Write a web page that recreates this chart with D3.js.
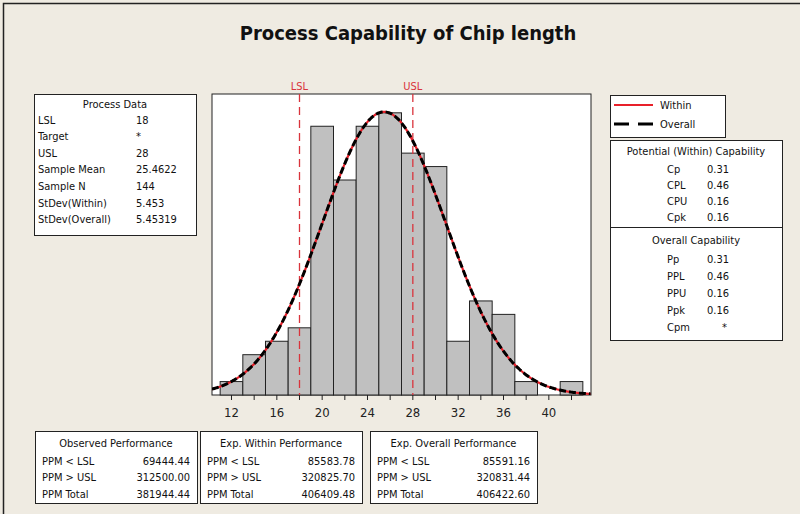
<!DOCTYPE html>
<html>
<head>
<meta charset="utf-8">
<script src="https://cdn.jsdelivr.net/npm/d3@7"></script>
<style>
  html, body { margin: 0; padding: 0; background: #efebe2; }
  svg { display: block; }
  .t { font-family: "DejaVu Sans Condensed", "DejaVu Sans", sans-serif; font-size: 11px; fill: #111; }
</style>
</head>
<body>
<svg id="chart" width="800" height="514"></svg>
<script>
// ---- data ----
const binCenters = [12, 14, 16, 18, 20, 22, 24, 26, 28, 30, 32, 34, 36, 38, 40, 42];
const binCounts  = [1, 3, 4, 5, 20, 16, 20, 21, 18, 17, 4, 7, 6, 1, 0, 1];
const binWidth = 2;
const xTickLabels = [12, 16, 20, 24, 28, 32, 36, 40];
const xMinorTicks = [12, 14, 16, 18, 20, 22, 24, 26, 28, 30, 32, 34, 36, 38, 40, 42];

const LSL = 18, USL = 28;
const sampleMean = 25.4622, sampleN = 144;
const sdWithin = 5.453, sdOverall = 5.45319;

const processLabels = ["LSL", "Target", "USL", "Sample Mean", "Sample N", "StDev(Within)", "StDev(Overall)"];
const processValues = ["18", "*", "28", "25.4622", "144", "5.453", "5.45319"];

const withinLabels = ["Cp", "CPL", "CPU", "Cpk"];
const withinValues = ["0.31", "0.46", "0.16", "0.16"];
const overallLabels = ["Pp", "PPL", "PPU", "Ppk", "Cpm"];
const overallValues = ["0.31", "0.46", "0.16", "0.16", "*"];

const perfLabels = ["PPM < LSL", "PPM > USL", "PPM Total"];
const observedPPM = ["69444.44", "312500.00", "381944.44"];
const expWithinPPM = ["85583.78", "320825.70", "406409.48"];
const expOverallPPM = ["85591.16", "320831.44", "406422.60"];

// ---- layout ----
const svg = d3.select("#chart");
const plot = { left: 212, right: 591, top: 94, bottom: 395 };

const x = d3.scaleLinear().domain([10.28, 43.72]).range([plot.left, plot.right]);
const y = d3.scaleLinear().domain([0, 22.4]).range([plot.bottom, plot.top]);

// outer frame
svg.append("rect").attr("x", 3.5).attr("y", 3.5).attr("width", 800).attr("height", 520)
  .attr("fill", "#efebe2").attr("stroke", "#222").attr("stroke-width", 1.5);

// title
svg.append("text").attr("x", 408).attr("y", 40).attr("text-anchor", "middle")
  .style("font-family", "'DejaVu Sans Condensed', 'DejaVu Sans', sans-serif")
  .style("font-weight", "bold").style("font-size", "20px").attr("fill", "#111")
  .text("Process Capability of Chip length");

// plot area
svg.append("rect").attr("x", plot.left).attr("y", plot.top)
  .attr("width", plot.right - plot.left).attr("height", plot.bottom - plot.top)
  .attr("fill", "#fff").attr("stroke", "#222").attr("stroke-width", 1);

svg.append("clipPath").attr("id", "pclip").append("rect")
  .attr("x", plot.left).attr("y", plot.top - 2)
  .attr("width", plot.right - plot.left).attr("height", plot.bottom - plot.top + 2);

// histogram bars
const bins = binCenters.map((c, i) => ({ c, n: binCounts[i] })).filter(d => d.n > 0);
svg.append("g").selectAll("rect").data(bins).join("rect")
  .attr("x", d => x(d.c - binWidth / 2))
  .attr("width", d => x(d.c + binWidth / 2) - x(d.c - binWidth / 2))
  .attr("y", d => y(d.n))
  .attr("height", d => y(0) - y(d.n))
  .attr("fill", "#c0c0c0").attr("stroke", "#222").attr("stroke-width", 1);

// spec limit lines
[["LSL", LSL], ["USL", USL]].forEach(([name, v]) => {
  svg.append("line").attr("x1", x(v)).attr("x2", x(v)).attr("y1", plot.top).attr("y2", plot.bottom)
    .attr("stroke", "#d9343c").attr("stroke-width", 1.3).attr("stroke-dasharray", "8,5");
  svg.append("text").attr("class", "t").attr("x", x(v)).attr("y", 90).attr("text-anchor", "middle")
    .style("fill", "#d9343c").text(name);
});

// fitted normal curves (scaled to counts per bin)
function normalCurve(sd) {
  const xs = d3.range(x.domain()[0], x.domain()[1] + 0.01, 0.1);
  return xs.map(v => [v, sampleN * binWidth * Math.exp(-0.5 * ((v - sampleMean) / sd) ** 2) / (sd * Math.sqrt(2 * Math.PI))]);
}
const line = d3.line().x(d => x(d[0])).y(d => y(d[1])).curve(d3.curveBasis);
const curves = svg.append("g").attr("clip-path", "url(#pclip)");
curves.append("path").attr("d", line(normalCurve(sdWithin)))
  .attr("fill", "none").attr("stroke", "#e8202a").attr("stroke-width", 2.2);
curves.append("path").attr("d", line(normalCurve(sdOverall)))
  .attr("fill", "none").attr("stroke", "#000").attr("stroke-width", 3).attr("stroke-dasharray", "7,3");

// x axis
const xAxis = svg.append("g").attr("transform", `translate(0,${plot.bottom})`);
xAxis.selectAll("line").data(xMinorTicks).join("line")
  .attr("x1", d => x(d)).attr("x2", d => x(d)).attr("y1", 0).attr("y2", 5)
  .attr("stroke", "#222");
xAxis.selectAll("text").data(xTickLabels).join("text")
  .attr("x", d => x(d)).attr("y", 22).attr("text-anchor", "middle")
  .style("font-family", "'DejaVu Sans Condensed', 'DejaVu Sans', sans-serif")
  .style("font-size", "13px").attr("fill", "#222")
  .text(d => d);

// helpers for text panels
function box(x0, y0, w, h) {
  svg.append("rect").attr("x", x0 + 0.5).attr("y", y0 + 0.5).attr("width", w).attr("height", h)
    .attr("fill", "#fff").attr("stroke", "#222").attr("stroke-width", 1);
}
function txt(x0, y0, s, anchor) {
  svg.append("text").attr("class", "t").attr("x", x0).attr("y", y0)
    .attr("text-anchor", anchor || "start").attr("dominant-baseline", "central").text(s);
}

// Process Data
box(34, 94, 162, 141);
txt(115, 104, "Process Data", "middle");
processLabels.forEach((l, i) => {
  txt(38, 120 + i * 16.6, l);
  txt(136, 120 + i * 16.6, processValues[i]);
});

// legend
box(610, 95, 115, 42);
svg.append("line").attr("x1", 614).attr("x2", 653).attr("y1", 105).attr("y2", 105)
  .attr("stroke", "#e8202a").attr("stroke-width", 2);
txt(660, 105, "Within");
svg.append("line").attr("x1", 614).attr("x2", 653).attr("y1", 124).attr("y2", 124)
  .attr("stroke", "#000").attr("stroke-width", 3).attr("stroke-dasharray", "15,9");
txt(660, 124, "Overall");

// capability
box(610, 140, 172, 200);
svg.append("line").attr("x1", 610).attr("x2", 782).attr("y1", 227.5).attr("y2", 227.5).attr("stroke", "#222");
txt(696, 151, "Potential (Within) Capability", "middle");
withinLabels.forEach((l, i) => {
  txt(667, 169 + i * 16.2, l);
  txt(707, 169 + i * 16.2, withinValues[i]);
});
txt(696, 240, "Overall Capability", "middle");
overallLabels.forEach((l, i) => {
  txt(667, 259 + i * 17, l);
  if (overallValues[i] === "*") txt(727, 259 + i * 17, overallValues[i], "end");
  else txt(707, 259 + i * 17, overallValues[i]);
});

// performance panels
const perf = [
  { x0: 35, w: 162, title: "Observed Performance", vals: observedPPM },
  { x0: 200, w: 162, title: "Exp. Within Performance", vals: expWithinPPM },
  { x0: 370, w: 167, title: "Exp. Overall Performance", vals: expOverallPPM }
];
perf.forEach(p => {
  box(p.x0, 431, p.w, 72);
  txt(p.x0 + p.w / 2, 443, p.title, "middle");
  perfLabels.forEach((l, i) => {
    txt(p.x0 + 7, 461 + i * 16.5, l);
    txt(p.x0 + p.w - 7, 461 + i * 16.5, p.vals[i], "end");
  });
});
</script>
</body>
</html>
